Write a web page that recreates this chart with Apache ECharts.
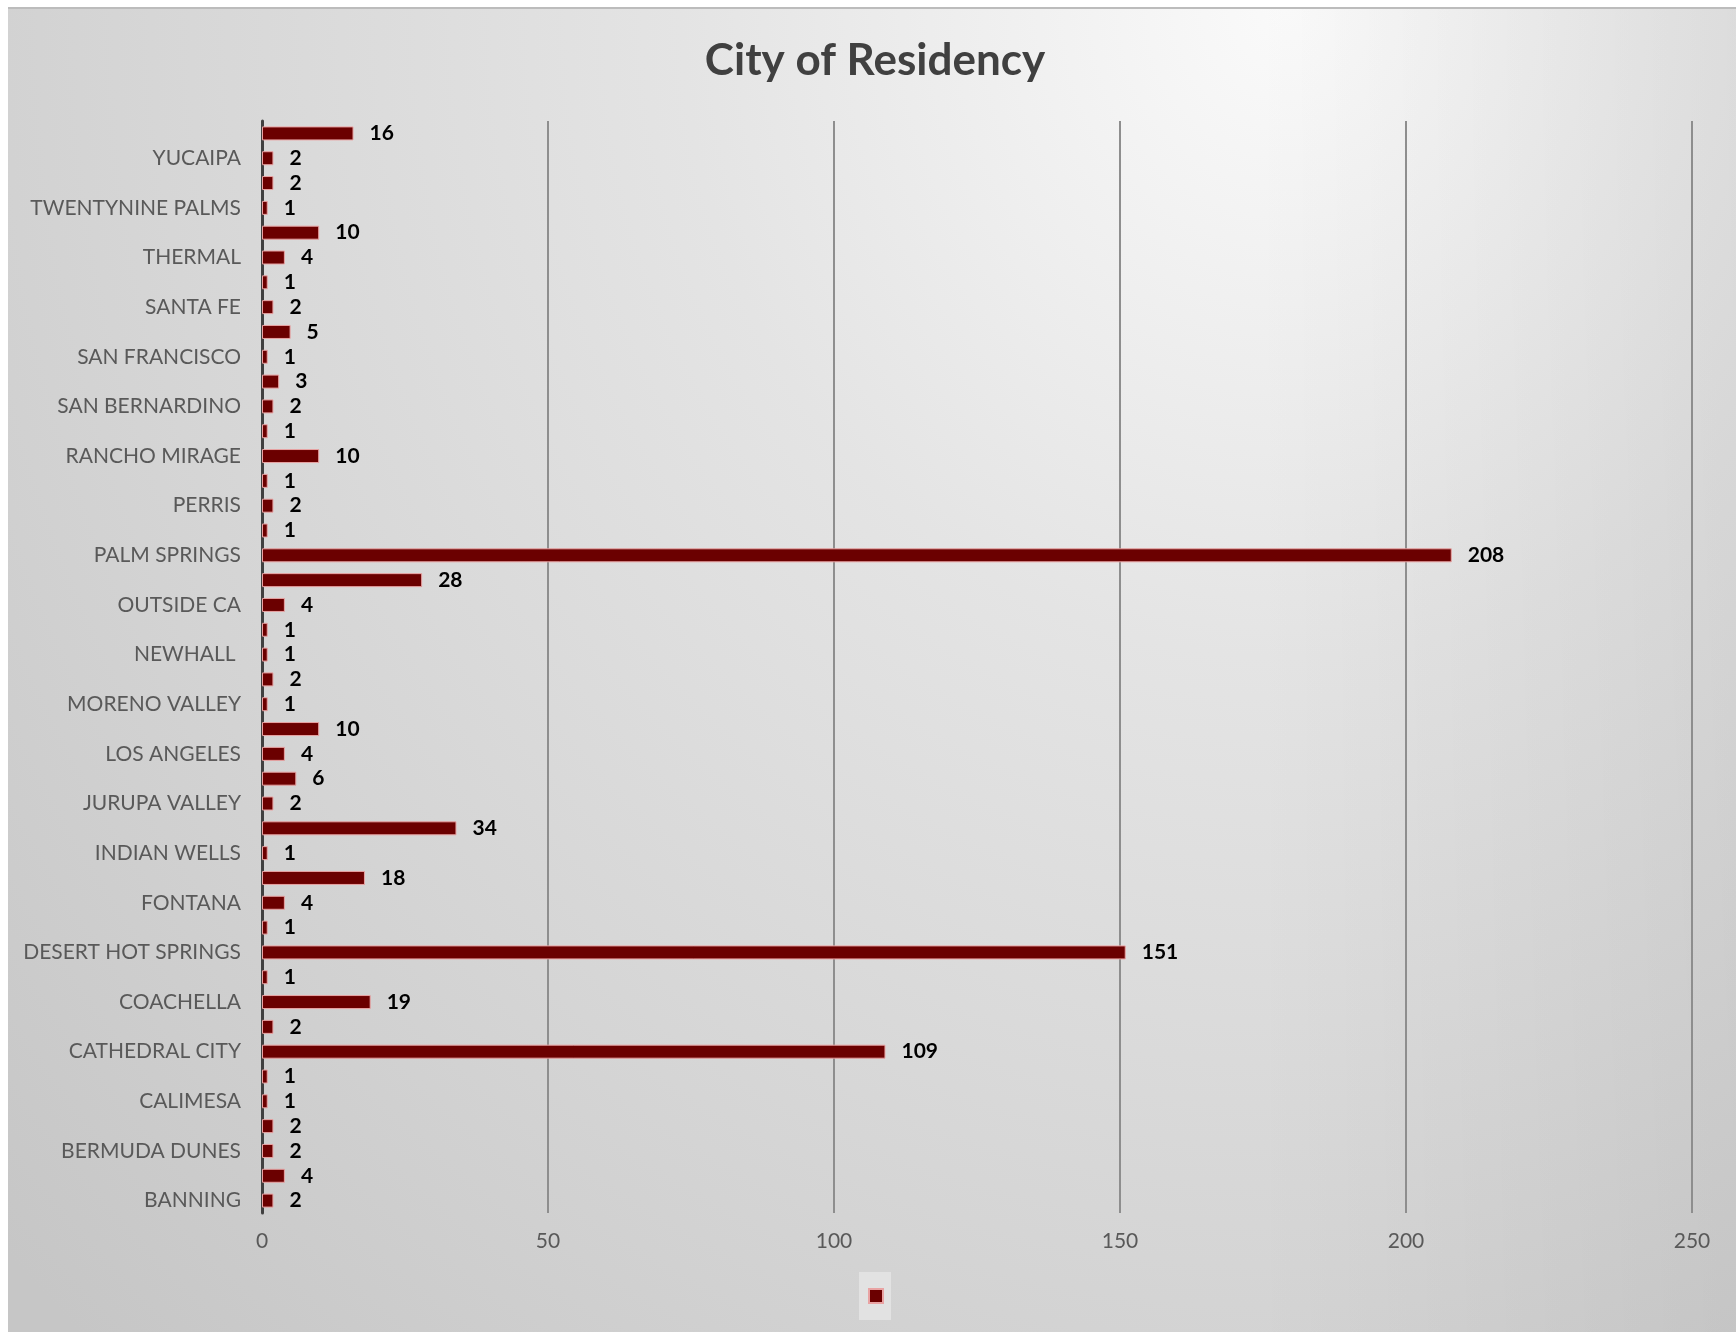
<!DOCTYPE html>
<html>
<head>
<meta charset="utf-8">
<title>City of Residency</title>
<script src="https://cdn.jsdelivr.net/npm/echarts@6/dist/echarts.min.js"></script>
<style>
  html, body { margin: 0; padding: 0; background: #ffffff; }
  #panel {
    position: absolute; left: 8px; top: 7px; right: 0; bottom: 0;
    border-top: 2px solid #bcbcbc;
    background:
      linear-gradient(to right, rgba(0,0,0,0) 72%, rgba(0,0,0,0.06) 100%),
      radial-gradient(ellipse 100% 140% at 74% 0%, #fafafa 0%, #e4e4e4 35%, #d4d4d4 70%, #c6c6c6 100%);
  }
  #chart { position: absolute; left: 0; top: 0; width: 1736px; height: 1332px; }
</style>
</head>
<body>
<div id="panel"></div>
<div id="chart"></div>
<script>
// Cities, bottom to top (alphabetical); every other one carries a visible label
const cities = [
  'BANNING', 'BEAUMONT', 'BERMUDA DUNES', 'BLYTHE', 'CALIMESA', 'CANYON LAKE',
  'CATHEDRAL CITY', 'CHINO', 'COACHELLA', 'CORONA', 'DESERT HOT SPRINGS', 'EASTVALE',
  'FONTANA', 'HEMET', 'INDIAN WELLS', 'INDIO', 'JURUPA VALLEY', 'LA QUINTA',
  'LOS ANGELES', 'MECCA', 'MORENO VALLEY', 'MURRIETA', 'NEWHALL ', 'NORCO',
  'OUTSIDE CA', 'PALM DESERT', 'PALM SPRINGS', 'PASADENA', 'PERRIS', 'RANCHO CUCAMONGA',
  'RANCHO MIRAGE', 'REDLANDS', 'SAN BERNARDINO', 'SAN DIEGO', 'SAN FRANCISCO', 'SAN JACINTO',
  'SANTA FE', 'TEMECULA', 'THERMAL', 'THOUSAND PALMS', 'TWENTYNINE PALMS', 'WHITEWATER',
  'YUCAIPA', 'YUCCA VALLEY'
];

// Number of residents per city
const residents = [
  2, 4, 2, 2, 1, 1,
  109, 2, 19, 1, 151, 1,
  4, 18, 1, 34, 2, 6,
  4, 10, 1, 2, 1, 1,
  4, 28, 208, 1, 2, 1,
  10, 1, 2, 3, 1, 5,
  2, 1, 4, 10, 1, 2,
  2, 16
];

// Value axis ticks
const valueTicks = { min: 0, max: 250, interval: 50 };

const chart = echarts.init(document.getElementById('chart'), null, { renderer: 'canvas' });

chart.setOption({
  backgroundColor: 'transparent',
  animation: false,
  title: {
    text: 'City of Residency',
    left: 870,
    textAlign: 'center',
    top: 34,
    textStyle: {
      fontFamily: 'Lato',
      fontWeight: 'bold',
      fontSize: 44,
      color: '#404040'
    }
  },
  legend: {
    data: [' '],
    left: 859,
    top: 1272,
    orient: 'horizontal',
    icon: 'rect',
    itemWidth: 14,
    itemHeight: 14,
    itemGap: 0,
    padding: [16, 7, 16, 9],
    backgroundColor: '#e2e2e2',
    formatter: function () { return ''; },
    textStyle: { fontSize: 1 }
  },
  grid: {
    left: 262,
    right: 44,
    top: 121,
    bottom: 119,
    containLabel: false
  },
  xAxis: {
    type: 'value',
    min: valueTicks.min,
    max: valueTicks.max,
    interval: valueTicks.interval,
    axisLine: { show: false },
    axisTick: { show: false },
    splitLine: { show: true, lineStyle: { color: '#8e8e8e', width: 2 } },
    axisLabel: {
      margin: 18,
      fontFamily: 'Lato',
      fontSize: 21,
      color: '#595959'
    }
  },
  yAxis: {
    type: 'category',
    data: cities,
    axisLine: { show: true, lineStyle: { color: '#404040', width: 3 } },
    axisTick: { show: false },
    splitLine: { show: false },
    axisLabel: {
      interval: 1,
      margin: 21,
      fontFamily: 'Lato',
      fontSize: 21,
      color: '#595959'
    }
  },
  series: [{
    name: ' ',
    type: 'bar',
    data: residents,
    barWidth: 14,
    itemStyle: {
      color: '#6b0000',
      borderColor: '#e9a3a3',
      borderWidth: 1
    },
    label: {
      show: true,
      position: 'right',
      distance: 16,
      fontFamily: 'Lato',
      fontWeight: 'bold',
      fontSize: 21,
      color: '#000000'
    }
  }]
});
</script>
</body>
</html>
